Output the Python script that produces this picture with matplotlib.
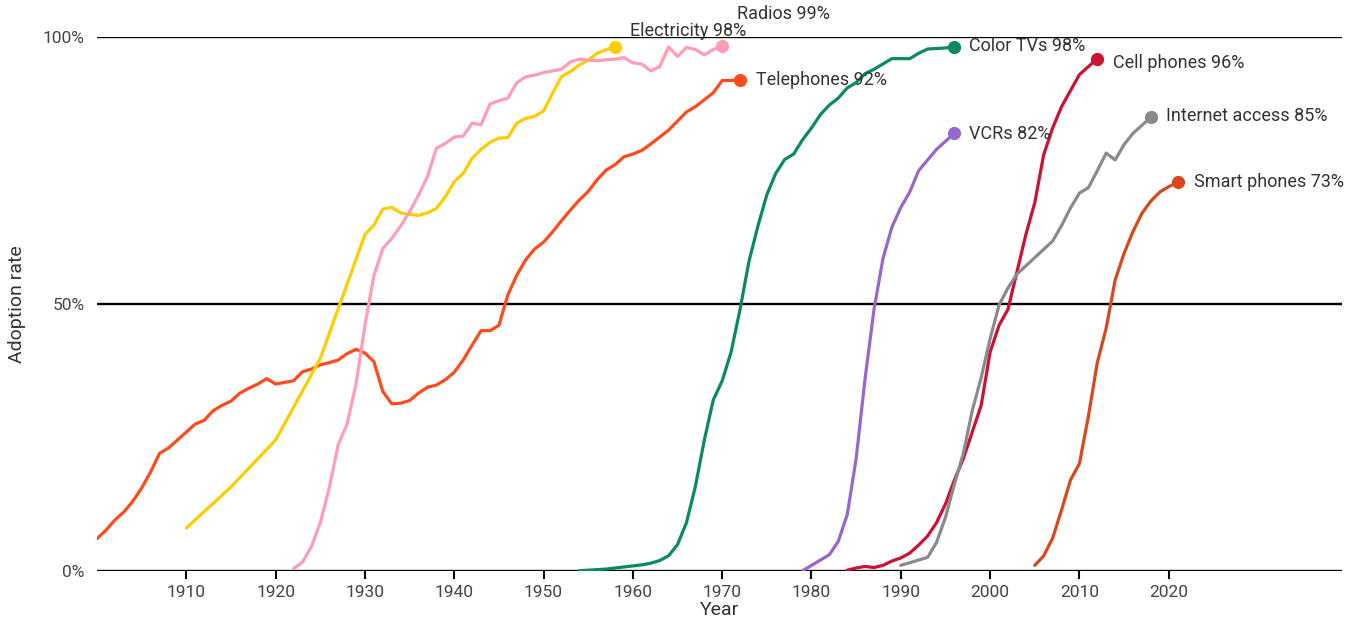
import matplotlib
matplotlib.use("Agg")
import matplotlib.pyplot as plt

plt.rcParams["font.family"] = ["Roboto", "DejaVu Sans"]

# adoption rate (% of US households)
tel_years = list(range(1900, 1973))
tel_vals = [6.0, 7.6, 9.5, 11.0, 13.0, 15.5, 18.5, 22.0, 23.0, 24.5,
            26.0, 27.5, 28.2, 30.0, 31.0, 31.8, 33.3, 34.2, 35.0, 36.0,
            35.0, 35.3, 35.6, 37.3, 37.8, 38.6, 39.0, 39.5, 40.7, 41.5,
            40.8, 39.2, 33.6, 31.3, 31.4, 31.9, 33.3, 34.4, 34.8, 35.8,
            37.2, 39.5, 42.3, 45.0, 45.0, 46.0, 51.7, 55.4, 58.3, 60.3,
            61.6, 63.5, 65.6, 67.6, 69.5, 71.1, 73.3, 75.1, 76.1, 77.6,
            78.1, 78.8, 80.0, 81.3, 82.6, 84.3, 86.0, 87.0, 88.3, 89.6,
            91.9, 91.9, 92.0]

elec_years = [1910, 1915, 1920, 1925] + list(range(1930, 1959))
elec_vals = [8.0, 15.7, 24.5, 39.8,
             63.0, 64.8, 67.8, 68.1, 67.1, 66.8, 66.6, 67.1, 67.9, 70.1,
             72.9, 74.5, 77.3, 79.0, 80.3, 81.1, 81.2, 83.9, 84.8, 85.2,
             86.2, 89.5, 92.6, 93.6, 94.8, 95.7, 97.0, 97.7, 98.2]

radio_years = list(range(1922, 1971))
radio_vals = [0.4, 1.6, 4.5, 9.0, 15.5, 23.6, 27.5, 35.0, 46.0,
              55.3, 60.4, 62.3, 64.6, 67.3, 70.4, 73.9, 79.2, 80.1, 81.3,
              81.5, 83.9, 83.6, 87.5, 88.1, 88.6, 91.5, 92.6, 92.9, 93.4,
              93.7, 94.0, 95.4, 95.9, 95.7, 95.6, 95.8, 95.9, 96.2, 95.2,
              95.0, 93.7, 94.5, 98.2, 96.4, 98.1, 97.7, 96.7, 97.7, 98.4]

tv_years = list(range(1954, 1997))
tv_vals = [0.0, 0.1, 0.2, 0.3, 0.5, 0.7, 0.9, 1.1, 1.4, 1.9,
           2.8, 4.9, 9.0, 15.8, 24.5, 32.0, 35.6, 41.0, 49.0, 58.0,
           64.6, 70.5, 74.5, 77.1, 78.1, 80.8, 83.0, 85.5, 87.3, 88.6,
           90.5, 91.5, 93.2, 94.0, 95.0, 96.0, 96.0, 96.0, 97.0, 97.8,
           97.9, 98.0, 98.2]

vcr_years = list(range(1979, 1997))
vcr_vals = [0.0, 1.0, 2.0, 3.0, 5.5, 10.5, 21.0, 36.0, 49.0, 58.5,
            64.4, 68.1, 71.0, 75.0, 77.0, 79.0, 80.5, 82.0]

cell_years = list(range(1984, 2013))
cell_vals = [0.1, 0.5, 0.8, 0.6, 1.0, 1.8, 2.4, 3.3, 4.8, 6.5,
             9.0, 12.5, 17.0, 21.0, 26.0, 31.0, 41.0, 46.0, 49.0, 56.0,
             63.0, 69.0, 78.0, 83.0, 87.0, 90.0, 93.0, 94.5, 96.0]

net_years = [1990] + list(range(1993, 2004)) + list(range(2007, 2019))
net_vals = [1.0, 2.5, 5.3, 10.0, 16.2, 22.0, 30.0, 36.2, 43.5, 49.8,
            53.0, 55.6, 61.8, 64.7, 68.0, 70.8, 71.8, 75.0, 78.3, 77.0,
            79.9, 82.0, 83.5, 85.0]

smart_years = list(range(2005, 2022))
smart_vals = [1.0, 2.8, 6.1, 11.4, 17.0, 20.1, 28.9, 39.0, 45.5, 54.5,
              59.5, 63.6, 67.0, 69.3, 71.0, 72.0, 72.8]

labels = ["Telephones 92%", "Electricity 98%", "Radios 99%", "Color TVs 98%",
          "VCRs 82%", "Cell phones 96%", "Internet access 85%", "Smart phones 73%"]
colors = ["#FF4A1C", "#FFCC00", "#FF9EB2", "#0B8A5B",
          "#9966CC", "#CC1133", "#8A8A8A", "#D9481C"]
# label offsets from the end dot, in pixels
offsets = [(16, 0), (15, 16), (15, 32), (15, 1),
           (15, -1), (16, -4), (15, 1), (16, 0)]

series = [(tel_years, tel_vals), (elec_years, elec_vals), (radio_years, radio_vals),
          (tv_years, tv_vals), (vcr_years, vcr_vals), (cell_years, cell_vals),
          (net_years, net_vals), (smart_years, smart_vals)]

fig = plt.figure(figsize=(13.55, 6.24), dpi=100)
ax = fig.add_axes([97 / 1355, 53.3 / 624, 1245 / 1355, 533.4 / 624])

for val in [0, 50, 100]:
    ax.axhline(val, color="black", lw=1.7, zorder=1)

for (xs, ys), lab, col, (dx, dy) in zip(series, labels, colors, offsets):
    ax.plot(xs, ys, color=col, lw=2.3, solid_capstyle="round", zorder=3)
    ax.plot(xs[-1], ys[-1], "o", color=col, ms=8.5, zorder=4)
    ax.annotate(lab, (xs[-1], ys[-1]), xytext=(dx, dy), textcoords="offset pixels",
                ha="left", va="center", fontsize=13, color="#333333", zorder=5)

ax.set_xlim(1900, 2039.4)
ax.set_ylim(0, 100)
ax.set_xticks(range(1910, 2030, 10))
ax.set_yticks([0, 50, 100])
ax.set_yticklabels(["0%", "50%", "100%"])
for s in ax.spines.values():
    s.set_visible(False)
ax.tick_params(axis="x", length=6, width=1.5, color="black", labelsize=12.5,
               labelcolor="#444444", pad=4)
ax.tick_params(axis="y", length=0, labelsize=12.5, labelcolor="#444444", pad=9)
ax.set_xlabel("Year", fontsize=14, color="#333333", labelpad=1)
ax.set_ylabel("Adoption rate", fontsize=14, color="#333333", labelpad=12)
ax.patch.set_visible(False)

fig.savefig("out.png", dpi=100)
